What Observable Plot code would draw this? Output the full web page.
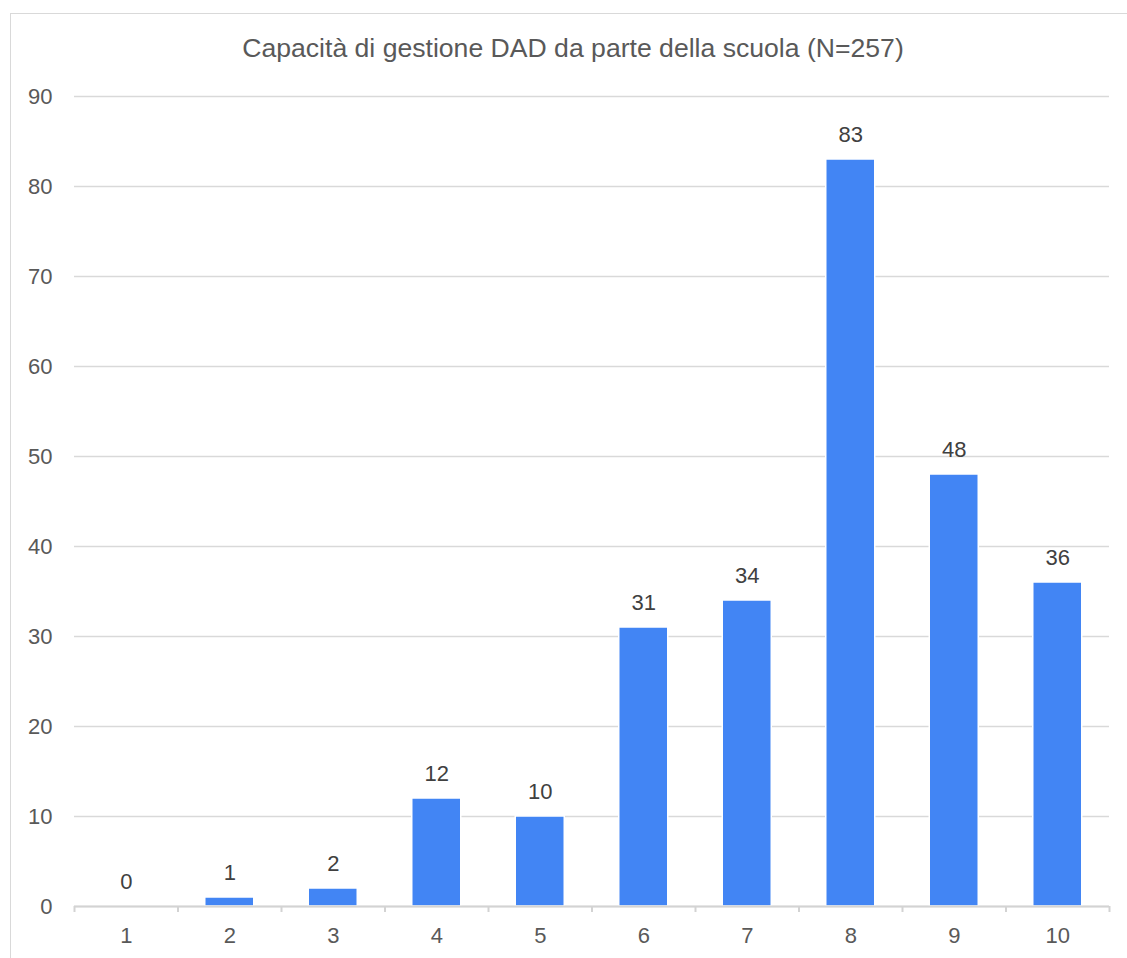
<!DOCTYPE html>
<html>
<head>
<meta charset="utf-8">
<script src="https://cdn.jsdelivr.net/npm/d3@7"></script>
<script src="https://cdn.jsdelivr.net/npm/@observablehq/plot@0.6"></script>
<style>
  html, body { margin: 0; padding: 0; background: #fff; }
  #wrap { position: relative; width: 1127px; height: 958px; overflow: hidden; font-family: "Liberation Sans", Arial, sans-serif; }
  #frame { position: absolute; left: 10px; top: 13px; width: 1130px; height: 960px; border-top: 1px solid #d9d9d9; border-left: 1px solid #d9d9d9; box-sizing: border-box; }
  #title { position: absolute; left: 10px; width: 1126px; top: 35px; text-align: center; font-size: 26.6px; line-height: 1; color: #595959; }
  #chart { position: absolute; left: 0; top: 70px; }
</style>
</head>
<body>
<div id="wrap">
  <div id="frame"></div>
  <div id="title">Capacità di gestione DAD da parte della scuola (N=257)</div>
  <div id="chart"></div>
</div>
<script>
const categories = [1, 2, 3, 4, 5, 6, 7, 8, 9, 10];
const counts = [0, 1, 2, 12, 10, 31, 34, 83, 48, 36];
const yTicks = [0, 10, 20, 30, 40, 50, 60, 70, 80, 90];
const boundaries = [0.5, 1.5, 2.5, 3.5, 4.5, 5.5, 6.5, 7.5, 8.5, 9.5, 10.5];

const data = categories.map((c, i) => ({cat: c, value: counts[i]}));

const chart = Plot.plot({
  width: 1127,
  height: 888,
  marginLeft: 74,
  marginRight: 18,
  marginTop: 26,
  marginBottom: 52,
  style: {fontFamily: '"Liberation Sans", Arial, sans-serif', background: "transparent"},
  x: {domain: [0.5, 10.5]},
  y: {domain: [0, 90]},
  marks: [
    Plot.gridY(yTicks, {stroke: "#d9d9d9", strokeOpacity: 1, strokeWidth: 1.3}),
    Plot.rectY(data.filter(d => d.value > 0), {
      x1: d => d.cat - 0.5, x2: d => d.cat + 0.5, y1: 0, y2: "value",
      insetLeft: 27.25, insetRight: 27.25,
      fill: "#4285f4", stroke: "#ffffff", strokeWidth: 1.5
    }),
    Plot.text(data, {x: "cat", y: "value", text: d => String(d.value), lineAnchor: "bottom", dy: -18, fontSize: 22, fill: "#404040"}),
    Plot.ruleY([0], {stroke: "#d3d3d3", strokeWidth: 2}),
    Plot.axisX({ticks: boundaries, tickSize: 6, tickFormat: () => "", stroke: "#d3d3d3", strokeWidth: 2, label: null}),
    Plot.axisX({ticks: categories, tickSize: 0, tickPadding: 21, tickFormat: d => String(d), fontSize: 22, fill: "#595959", label: null}),
    Plot.axisY({ticks: yTicks, tickSize: 0, tickPadding: 22, fontSize: 22, fill: "#595959", label: null})
  ]
});
document.getElementById("chart").appendChild(chart);
</script>
</body>
</html>
